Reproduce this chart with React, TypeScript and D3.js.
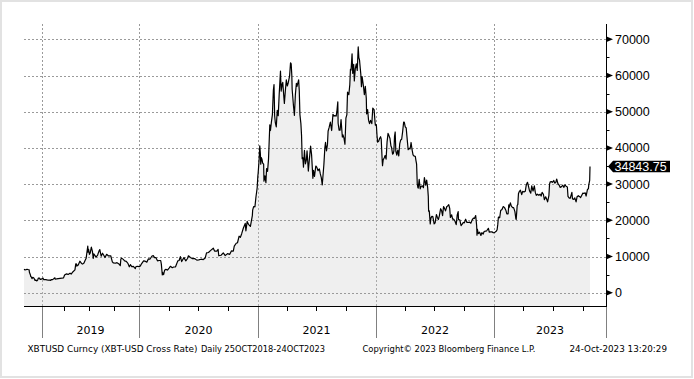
import React from "react";
import * as d3 from "d3";

// [month, day, close]
const prices2018: [number, number, number][] = [
  [10,25,6460],[10,29,6300],[11,1,6350],[11,5,6450],[11,8,6420],[11,12,6350],[11,14,6300],[11,15,5650],[11,19,4900],[11,20,4500],[11,22,4400],[11,25,3900],[11,28,4250],[12,1,4150],[12,4,3850],[12,7,3400],[12,10,3500],[12,14,3250],[12,17,3500],[12,20,4050],[12,24,4050],[12,27,3650],[12,31,3750],
];
const prices2019: [number, number, number][] = [
  [1,3,3800],[1,7,4000],[1,10,3600],[1,14,3650],[1,18,3600],[1,22,3550],[1,28,3450],[2,1,3450],[2,7,3400],[2,8,3650],[2,14,3600],[2,19,3900],[2,23,4100],[2,24,3750],[3,1,3800],[3,8,3900],[3,15,3950],[3,22,4000],[3,29,4100],[4,2,4900],[4,8,5200],[4,15,5050],[4,22,5400],[4,26,5150],[5,3,5800],[5,10,6300],[5,13,8000],[5,16,7900],[5,17,7350],[5,22,7650],[5,28,8700],[6,3,8100],[6,7,7900],[6,12,8200],[6,16,8900],[6,20,9500],[6,22,10700],[6,26,12900],[6,27,11200],[6,29,12000],[7,2,10600],[7,5,11000],[7,9,12600],[7,13,11400],[7,16,9500],[7,18,10700],[7,22,10300],[7,26,9850],[8,1,10400],[8,6,11500],[8,9,11900],[8,14,10100],[8,19,10900],[8,23,10400],[8,28,9700],[9,3,10600],[9,10,10150],[9,18,10200],[9,24,8500],[9,28,8200],[10,5,8150],[10,11,8300],[10,17,8000],[10,23,7450],[10,25,9250],[10,28,9550],[11,3,9200],[11,8,8800],[11,14,8650],[11,20,8100],[11,25,7150],[11,29,7750],[12,4,7200],[12,10,7250],[12,17,6650],[12,19,7150],[12,24,7300],[12,31,7200],
];
const prices2020: [number, number, number][] = [
  [1,4,7400],[1,8,8050],[1,14,8800],[1,19,8700],[1,24,8450],[1,29,9350],[2,3,9300],[2,9,10150],[2,13,10250],[2,17,9700],[2,21,9700],[2,26,8800],[3,2,8900],[3,7,8900],[3,9,7900],[3,12,4900],[3,13,5600],[3,16,5000],[3,19,6200],[3,23,6450],[3,28,6250],[4,2,6800],[4,6,7300],[4,12,6900],[4,16,7100],[4,22,7150],[4,29,8800],[5,3,8900],[5,7,9950],[5,11,8600],[5,18,9700],[5,24,8800],[5,29,9450],[6,1,10200],[6,7,9750],[6,14,9400],[6,21,9400],[6,27,9000],[7,3,9050],[7,10,9250],[7,17,9150],[7,23,9600],[7,27,11000],[8,2,11100],[8,9,11700],[8,17,12300],[8,21,11500],[8,28,11500],[9,1,11950],[9,3,10200],[9,10,10350],[9,17,11000],[9,23,10250],[9,30,10800],[10,7,10600],[10,12,11550],[10,18,11500],[10,21,12850],[10,27,13650],[10,31,13800],[11,5,15600],[11,9,15300],[11,13,16300],[11,18,17800],[11,24,19150],[11,26,17100],[11,30,19700],[12,4,18900],[12,10,18300],[12,16,21300],[12,17,22800],[12,20,23800],[12,24,23700],[12,27,26300],[12,31,29000],
];
const prices2021: [number, number, number][] = [
  [1,2,32200],[1,3,33000],[1,6,36800],[1,8,40600],[1,10,38200],[1,11,35500],[1,13,37300],[1,15,36800],[1,17,35800],[1,20,35500],[1,21,30800],[1,24,32300],[1,27,30400],[1,29,34300],[2,1,33500],[2,4,36900],[2,8,46400],[2,10,44800],[2,13,47200],[2,16,49200],[2,19,55900],[2,21,57500],[2,23,48900],[2,25,47000],[2,28,45800],[3,3,50400],[3,6,48900],[3,9,54800],[3,13,61200],[3,15,55700],[3,18,57600],[3,20,58100],[3,23,54500],[3,25,52300],[3,28,55800],[3,31,58800],[4,3,57100],[4,6,58000],[4,10,59800],[4,13,63500],[4,15,63200],[4,17,60000],[4,18,56200],[4,22,51700],[4,25,49000],[4,28,54800],[5,1,57800],[5,3,57000],[5,8,58800],[5,10,55800],[5,12,49200],[5,15,46700],[5,17,43500],[5,19,37000],[5,21,37300],[5,23,34700],[5,26,39300],[5,29,35600],[6,1,36700],[6,3,39200],[6,7,33600],[6,10,36700],[6,14,40500],[6,17,38100],[6,21,31600],[6,23,33800],[6,26,32100],[6,30,35000],[7,3,34700],[7,7,33700],[7,11,34200],[7,14,32800],[7,17,31800],[7,20,29800],[7,22,32100],[7,25,35400],[7,28,40000],[7,30,41500],[8,2,39200],[8,5,40900],[8,7,44600],[8,10,45600],[8,14,47100],[8,18,44800],[8,22,49300],[8,25,48800],[8,28,48900],[9,1,48800],[9,3,50000],[9,6,52700],[9,7,46800],[9,10,44900],[9,13,44900],[9,16,47800],[9,20,43000],[9,22,43600],[9,25,42700],[9,28,41000],[10,1,48200],[10,4,49200],[10,6,55400],[10,10,54700],[10,13,57400],[10,15,61700],[10,17,61500],[10,20,66000],[10,22,60600],[10,25,63100],[10,27,58500],[10,30,61900],[11,2,63200],[11,5,61400],[11,8,67900],[11,10,64900],[11,12,64300],[11,16,60400],[11,18,56900],[11,20,59700],[11,24,57200],[11,27,54700],[11,30,57000],[12,3,53600],[12,4,49400],[12,7,50600],[12,10,47600],[12,13,46700],[12,16,47600],[12,20,46700],[12,23,51000],[12,27,50600],[12,30,47100],[12,31,46300],
];
const prices2022: [number, number, number][] = [
  [1,3,46400],[1,5,43500],[1,7,41600],[1,10,41800],[1,13,42600],[1,16,43100],[1,18,42400],[1,21,36500],[1,22,35100],[1,24,36700],[1,27,37200],[1,30,37900],[2,2,36900],[2,5,41600],[2,8,44000],[2,10,43600],[2,14,42600],[2,17,40500],[2,19,40100],[2,22,38300],[2,24,38400],[2,26,39200],[2,28,43200],[3,2,44400],[3,4,39100],[3,7,38000],[3,10,39400],[3,13,37800],[3,16,41100],[3,19,42200],[3,22,42400],[3,25,44500],[3,28,47100],[3,30,47100],[4,2,45800],[4,5,45500],[4,7,43400],[4,11,39500],[4,14,39900],[4,17,39700],[4,20,41500],[4,23,39500],[4,26,38100],[4,30,37700],[5,3,37700],[5,5,36500],[5,7,35500],[5,9,30100],[5,11,29000],[5,12,28900],[5,15,31300],[5,18,28700],[5,21,29400],[5,25,29500],[5,28,29000],[5,31,31800],[6,4,29700],[6,7,31100],[6,10,29100],[6,12,26600],[6,13,22500],[6,15,22600],[6,18,19000],[6,20,20600],[6,23,21100],[6,26,21000],[6,30,19000],[7,3,19300],[7,7,21600],[7,10,20800],[7,13,20200],[7,16,21200],[7,20,23200],[7,23,22700],[7,26,21300],[7,29,23800],[8,1,23300],[8,4,22600],[8,8,23800],[8,10,23900],[8,14,24300],[8,17,23300],[8,19,20800],[8,23,21500],[8,26,20300],[8,29,20300],[9,2,19800],[9,6,18800],[9,9,21400],[9,12,22400],[9,13,20200],[9,17,20100],[9,21,18500],[9,24,18900],[9,28,19400],[10,1,19300],[10,5,20300],[10,9,19400],[10,13,19400],[10,17,19500],[10,21,19200],[10,25,20100],[10,29,20600],[11,1,20500],[11,5,21300],[11,8,18500],[11,9,15900],[11,10,17600],[11,13,16300],[11,17,16700],[11,21,15800],[11,24,16600],[11,28,16200],[12,1,16900],[12,5,17000],[12,9,17100],[12,14,17800],[12,17,16700],[12,21,16800],[12,25,16800],[12,29,16600],[12,31,16550],
];
const prices2023: [number, number, number][] = [
  [1,3,16700],[1,7,16950],[1,10,17400],[1,12,18800],[1,14,20900],[1,18,20700],[1,21,22700],[1,25,23000],[1,29,23800],[2,2,23500],[2,6,22800],[2,9,21800],[2,13,21800],[2,15,24300],[2,16,23500],[2,20,24800],[2,23,23900],[2,27,23500],[3,2,23500],[3,6,22400],[3,9,20400],[3,10,20200],[3,13,24100],[3,15,24400],[3,17,27400],[3,20,28000],[3,23,28300],[3,27,27100],[3,30,28000],[4,3,27800],[4,7,28000],[4,10,29700],[4,13,30400],[4,14,30500],[4,17,29400],[4,20,28200],[4,24,27500],[4,27,29500],[5,1,28100],[5,5,29500],[5,8,27700],[5,11,26900],[5,15,27200],[5,19,26900],[5,23,27200],[5,26,26700],[5,29,27700],[6,2,27200],[6,5,25700],[6,9,26500],[6,12,25900],[6,15,25100],[6,19,26800],[6,21,30000],[6,23,30600],[6,27,30700],[6,30,30500],[7,4,31000],[7,7,30300],[7,10,30400],[7,13,31400],[7,17,30100],[7,20,29800],[7,24,29100],[7,28,29300],[8,1,29700],[8,4,29100],[8,8,29800],[8,11,29400],[8,15,29200],[8,17,26600],[8,21,26100],[8,24,26100],[8,29,27700],[8,31,25900],[9,4,25800],[9,7,26200],[9,11,25100],[9,14,26500],[9,18,26800],[9,21,26600],[9,25,26300],[9,29,27000],[10,2,27500],[10,5,27400],[10,9,27600],[10,12,26700],[10,16,28500],[10,19,28700],[10,20,29700],[10,23,31000],[10,24,34843.75],
];

const yTickValues = [0, 10000, 20000, 30000, 40000, 50000, 60000, 70000];
const yearLabels = ["2019", "2020", "2021", "2022", "2023"];
const lastLabel = "34843.75";
const footerLeft = "XBTUSD Curncy (XBT-USD Cross Rate)";
const footerLeft2 = "Daily 25OCT2018-24OCT2023";
const footerCenter = "Copyright\u00A9 2023 Bloomberg Finance L.P.";
const footerRight = "24-Oct-2023 13:20:29";

type Pt = { date: Date; value: number };
const byYear: [number, [number, number, number][]][] = [
  [2018, prices2018], [2019, prices2019], [2020, prices2020],
  [2021, prices2021], [2022, prices2022], [2023, prices2023],
];
const series: Pt[] = byYear.flatMap(([y, arr]) =>
  arr.map(([m, d, v]) => ({ date: new Date(y, m - 1, d), value: v }))
);

export default function App() {
  const W = 694, H = 379;
  const left = 24, right = 606, top = 24, bottom = 306, dataEnd = 590;

  const x = d3.scaleTime()
    .domain([
      new Date(2018, 9, 25), new Date(2019, 0, 1), new Date(2019, 3, 1),
      new Date(2020, 0, 1), new Date(2021, 0, 1), new Date(2022, 0, 1),
      new Date(2023, 0, 1), new Date(2023, 9, 24),
    ])
    .range([left, 41.5, 64.3, 139.4, 257.5, 375.7, 494.2, dataEnd]);

  const y = d3.scaleLinear().domain([0, 70000]).range([292.7, 39.3]);

  const line = d3.line<Pt>().x(d => x(d.date)).y(d => y(d.value));
  const area = d3.area<Pt>().x(d => x(d.date)).y0(bottom).y1(d => y(d.value));

  const quarters = d3.timeMonth.every(3)!.range(new Date(2018, 9, 26), new Date(2023, 9, 25));
  const years = quarters.filter(q => q.getMonth() === 0);
  const otherQ = quarters.filter(q => q.getMonth() !== 0);
  const minorY = d3.range(5000, 75000, 10000);

  const yearBounds = [...years.map(d => x(d)), right];
  const last = series[series.length - 1];
  const ly = y(last.value);
  const gridColor = "#9a9a9a";

  return (
    <svg width={W} height={H} style={{ position: "absolute", left: 0, top: 0, background: "#fff" }}>
      <rect x={1} y={1} width={W - 3} height={H - 3} fill="#fff" stroke="#e2e2e2" strokeWidth={2} />
      {/* grid */}
      {yTickValues.map(v => (
        <line key={"hg" + v} x1={left} x2={right} y1={Math.round(y(v)) + 0.5} y2={Math.round(y(v)) + 0.5}
          stroke={gridColor} strokeDasharray="2,2" strokeWidth={1} />
      ))}
      {years.map((d, i) => (
        <line key={"vg" + i} x1={Math.round(x(d)) + 0.5} x2={Math.round(x(d)) + 0.5} y1={top} y2={bottom}
          stroke={gridColor} strokeDasharray="2,2" strokeWidth={1} />
      ))}
      {/* area and line */}
      <path d={area(series) || ""} fill="#efefef" />
      {yTickValues.map(v => (
        <line key={"hg2" + v} x1={left} x2={dataEnd} y1={Math.round(y(v)) + 0.5} y2={Math.round(y(v)) + 0.5}
          stroke={gridColor} strokeDasharray="2,2" strokeWidth={1} />
      ))}
      {years.map((d, i) => (
        <line key={"vg2" + i} x1={Math.round(x(d)) + 0.5} x2={Math.round(x(d)) + 0.5} y1={top} y2={bottom}
          stroke={gridColor} strokeDasharray="2,2" strokeWidth={1} opacity={0.8} />
      ))}
      <path d={line(series) || ""} fill="none" stroke="#000" strokeWidth={1.2} strokeLinejoin="round" />
      {/* x axis */}
      <line x1={left} x2={right + 0.5} y1={bottom + 0.5} y2={bottom + 0.5} stroke="#000" />
      {otherQ.map((d, i) => (
        <line key={"q" + i} x1={Math.round(x(d)) + 0.5} x2={Math.round(x(d)) + 0.5} y1={bottom} y2={bottom + 5} stroke="#000" />
      ))}
      {years.map((d, i) => (
        <line key={"ys" + i} x1={Math.round(x(d)) + 0.5} x2={Math.round(x(d)) + 0.5} y1={bottom + 1} y2={338} stroke="#808080" />
      ))}
      <line x1={right + 0.5} x2={right + 0.5} y1={bottom + 1} y2={338} stroke="#808080" />
      {yearLabels.map((t, i) => (
        <text key={t} x={(yearBounds[i] + yearBounds[i + 1]) / 2} y={334} textAnchor="middle"
          fontFamily="DejaVu Sans" fontSize={11} fill="#000">{t}</text>
      ))}
      {/* y axis */}
      <line x1={right + 0.5} x2={right + 0.5} y1={top} y2={bottom + 1} stroke="#000" />
      {minorY.map(v => (
        <line key={"my" + v} x1={right} x2={right + 3.5} y1={Math.round(y(v)) + 0.5} y2={Math.round(y(v)) + 0.5} stroke="#000" />
      ))}
      {yTickValues.map(v => {
        const yy = y(v);
        return (
          <g key={"yt" + v}>
            <path d={`M${right},${yy - 3}L${right + 7},${yy}L${right},${yy + 3}Z`} fill="#000" />
            <text x={615} y={yy} dy="0.36em" fontFamily="Liberation Sans, Arial" fontSize={12.5} fill="#000">{v}</text>
          </g>
        );
      })}
      {/* last value label */}
      <path d={`M608,${ly}L613,${ly - 5.8}L670,${ly - 5.8}L670,${ly + 5.8}L613,${ly + 5.8}Z`} fill="#000" />
      <text x={614.5} y={ly} dy="0.36em" fontFamily="Liberation Sans, Arial" fontSize={12.5} fill="#fff">{lastLabel}</text>
      {/* footer */}
      <text x={27.5} y={352} fontFamily="DejaVu Sans" fontSize={9} textLength={170} lengthAdjust="spacingAndGlyphs">{footerLeft}</text>
      <text x={201} y={352} fontFamily="DejaVu Sans" fontSize={9} textLength={124} lengthAdjust="spacingAndGlyphs">{footerLeft2}</text>
      <text x={362.5} y={352} fontFamily="DejaVu Sans" fontSize={9} textLength={173} lengthAdjust="spacingAndGlyphs">{footerCenter}</text>
      <text x={569.5} y={352} fontFamily="DejaVu Sans" fontSize={9} textLength={97.5} lengthAdjust="spacingAndGlyphs">{footerRight}</text>
    </svg>
  );
}
